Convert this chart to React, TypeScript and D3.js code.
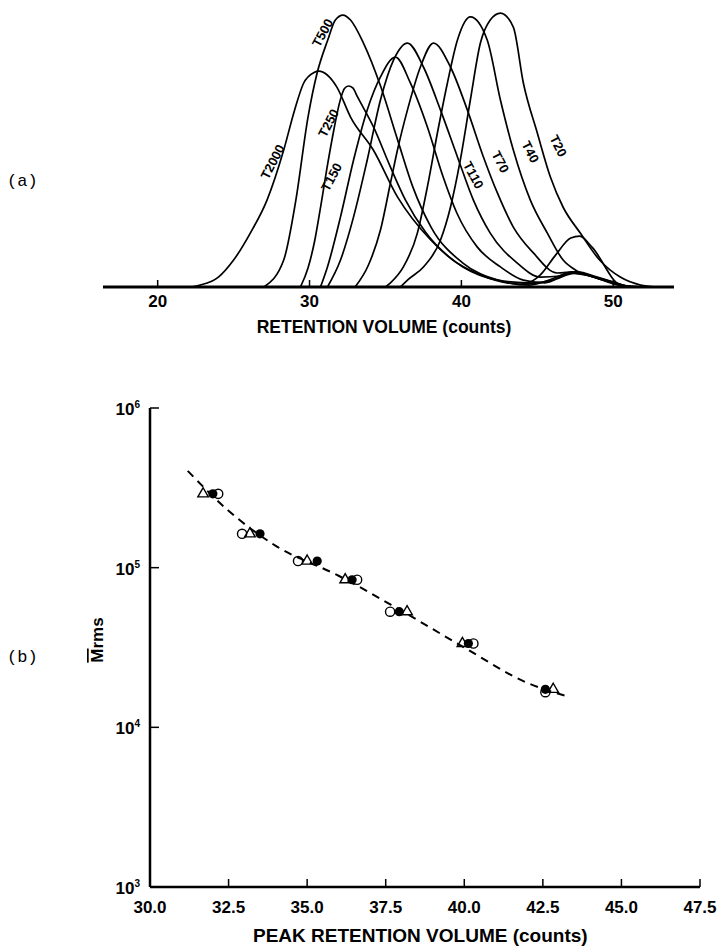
import React, { useEffect, useRef } from 'react';
import * as d3 from 'd3';

// (a) elution profiles: [retention volume (counts), response (% of tallest peak)]
const curveNames = ['T2000', 'T500', 'T250', 'T150', 'T110', 'T70', 'T40', 'T20'];

const t2000 = [[22.2, 0], [22.8, 0.7], [24.0, 3.6], [25.0, 9.8], [26.1, 19.6], [27.2, 31.6], [28.3, 49.8], [29.0, 64], [29.6, 74], [30.3, 78], [30.6, 78.5], [31.8, 72.7], [32.7, 61.8], [34.2, 49.8], [35.8, 32.7], [38.0, 17], [40.1, 7.3], [42.4, 2.5], [44.3, 1.5], [45.2, 4.4], [46.2, 11.6], [47.2, 17.8], [47.8, 18.5], [48.6, 14.5], [50.5, 0.7], [51.8, 0]];
const t500 = [[27.0, 0], [28.3, 9.8], [29.1, 31.6], [29.9, 61.8], [30.5, 77.8], [31.2, 89.8], [31.7, 97.1], [32.2, 98.9], [32.7, 97.1], [33.55, 88.7], [34.7, 72.7], [35.8, 53.5], [36.8, 36.4], [38.0, 21.8], [40.1, 8.7], [42.4, 2.5], [44.5, 0.7], [46.0, 3], [47.3, 5.5], [48.5, 4], [50.5, 0.5], [52.0, 0]];
const t250 = [[29.4, 0], [29.9, 6.9], [30.35, 17.1], [30.75, 29.8], [31.15, 43.3], [31.6, 57.1], [32.0, 67.5], [32.3, 72.2], [32.57, 73.1], [32.85, 72.4], [33.16, 69.1], [34.21, 58.2], [35.33, 43.6], [36.32, 31.6], [37.63, 20], [39.28, 10.5], [41.25, 4.4], [43.88, 1.1], [46.0, 2.5], [47.5, 5], [48.8, 3.5], [51.0, 0]];
const t150 = [[30.72, 0], [31.18, 7.3], [32.04, 25.5], [32.9, 46.2], [33.8, 64.4], [34.67, 76.4], [35.66, 83.6], [36.64, 74.2], [37.76, 58.2], [38.8, 40], [39.7, 26.9], [41.05, 14.5], [42.57, 7.3], [44.08, 2.5], [45.5, 1.5], [47.2, 5], [48.5, 4], [50.8, 0]];
const t110 = [[31.18, 0], [32.04, 9.8], [32.9, 25.5], [33.8, 46.2], [34.67, 68], [35.53, 82.5], [36.45, 88.7], [37.5, 80], [38.62, 64.4], [39.74, 47.3], [40.79, 31.6], [41.9, 19.6], [43.68, 8.7], [45.2, 3.6], [46.5, 4], [47.6, 5.5], [49.0, 3.5], [51.0, 0]];
const t70 = [[33.0, 0], [33.88, 8], [34.67, 20.7], [35.33, 37.8], [35.79, 49.8], [36.45, 64.4], [37.3, 80], [38.16, 88.7], [39.28, 80], [40.39, 64.4], [41.45, 47.3], [42.37, 34.2], [43.42, 21.8], [44.74, 12.4], [46.3, 5.1], [47.5, 5.5], [49.0, 3], [51.2, 0]];
const t40 = [[35.0, 0], [35.33, 1.5], [36.18, 7.3], [37.1, 19.6], [37.76, 36.4], [38.42, 56], [39.08, 74.2], [39.74, 89.8], [40.59, 98.2], [41.7, 89.8], [42.57, 68], [43.42, 49.8], [44.54, 31.6], [45.66, 19.6], [46.7, 9.8], [47.5, 6.2], [48.8, 3.5], [51.0, 0]];
const t20 = [[35.99, 0], [36.45, 2.5], [37.5, 7.3], [38.62, 17], [39.28, 29], [39.93, 46.2], [40.59, 68], [41.25, 88.7], [41.9, 97.1], [42.57, 99.6], [43.42, 94.5], [44.08, 74.2], [45.0, 56], [45.86, 40], [46.7, 29], [47.83, 19.6], [49.1, 9.8], [50.46, 3.6], [51.8, 0.7], [52.8, 0]];
const curves = [t2000, t500, t250, t150, t110, t70, t40, t20];

const topTicks = [20, 30, 40, 50];

// where each curve name sits (data units) and its slant
const labelSpots = [[27.57, 45.5, -63], [30.86, 92.4, -62], [31.25, 59.6, -63], [31.45, 40, -62], [40.79, 40.7, 62], [42.57, 45.5, 63], [44.54, 49.1, 63], [46.38, 51.3, 63]];

// (b) calibration: peak retention volume vs Mrms, three runs
const openCircleX = [32.17, 32.93, 34.71, 36.59, 37.64, 40.29, 42.58];
const openCircleY = [2.9e5, 1.63e5, 1.1e5, 8.4e4, 5.3e4, 3.35e4, 1.66e4];
const triangleX = [31.69, 33.18, 35.0, 36.21, 38.18, 39.94, 42.83];
const triangleY = [2.9e5, 1.63e5, 1.1e5, 8.4e4, 5.3e4, 3.35e4, 1.73e4];
const filledX = [32.0, 33.5, 35.32, 36.43, 37.93, 40.13, 42.58];
const filledY = [2.9e5, 1.63e5, 1.1e5, 8.4e4, 5.3e4, 3.35e4, 1.73e4];

const fitX = [31.2, 32.5, 34.0, 36.0, 38.0, 40.0, 42.0, 43.2];
const fitY = [4.04e5, 2.27e5, 1.37e5, 8.9e4, 5.37e4, 3.16e4, 1.9e4, 1.58e4];

const bottomTicks = [30.0, 32.5, 35.0, 37.5, 40.0, 42.5, 45.0, 47.5];
const decadeTicks = [1e3, 1e4, 1e5, 1e6];

const SANS = '"Liberation Sans", Arial, sans-serif';
const MONO = '"Liberation Mono", monospace';

const App = () => {
  const svgRef = useRef<SVGSVGElement>(null);

  useEffect(() => {
    const svg = d3.select(svgRef.current);
    svg.selectAll('*').remove();

    // ---------- (a) ----------
    const x = d3.scaleLinear().domain([16.4, 54]).range([103, 674]);
    const y = d3.scaleLinear().domain([0, 100]).range([287, 12]);
    const top = svg.append('g');

    const line = d3.line<number[]>()
      .x(d => x(d[0]))
      .y(d => y(d[1]))
      .curve(d3.curveMonotoneX);

    top.selectAll('path.elution')
      .data(curves)
      .enter()
      .append('path')
      .attr('class', 'elution')
      .attr('d', d => line(d))
      .attr('fill', 'none')
      .attr('stroke', '#000')
      .attr('stroke-width', 1.7);

    top.append('line')
      .attr('x1', x(16.4)).attr('x2', x(54))
      .attr('y1', y(0)).attr('y2', y(0))
      .attr('stroke', '#000').attr('stroke-width', 3);

    top.selectAll('line.tick')
      .data(topTicks)
      .enter()
      .append('line')
      .attr('x1', d => x(d)).attr('x2', d => x(d))
      .attr('y1', y(0)).attr('y2', y(0) - 7)
      .attr('stroke', '#000').attr('stroke-width', 1.5);

    top.selectAll('text.tick')
      .data(topTicks)
      .enter()
      .append('text')
      .attr('x', d => x(d))
      .attr('y', y(0) + 20)
      .attr('text-anchor', 'middle')
      .attr('font-family', SANS)
      .attr('font-weight', 'bold')
      .attr('font-size', 17)
      .text(d => d);

    top.append('text')
      .attr('x', 384).attr('y', 333)
      .attr('text-anchor', 'middle')
      .attr('font-family', SANS)
      .attr('font-weight', 'bold')
      .attr('font-size', 17.5)
      .text('RETENTION VOLUME (counts)');

    top.selectAll('text.name')
      .data(curveNames)
      .enter()
      .append('text')
      .attr('transform', (d, i) => `translate(${x(labelSpots[i][0])},${y(labelSpots[i][1])}) rotate(${labelSpots[i][2]})`)
      .attr('text-anchor', 'middle')
      .attr('dy', 4.5)
      .attr('font-family', SANS)
      .attr('font-weight', 'bold')
      .attr('font-size', 13)
      .text(d => d);

    svg.append('text')
      .attr('x', 7).attr('y', 186)
      .attr('font-family', MONO)
      .attr('font-size', 17)
      .text('(a)');

    // ---------- (b) ----------
    const bx = d3.scaleLinear().domain([30, 47.5]).range([150, 700]);
    const by = d3.scaleLog().domain([1e3, 1e6]).range([887, 408]);
    const bottom = svg.append('g');

    bottom.append('line')
      .attr('x1', bx(30)).attr('x2', bx(30))
      .attr('y1', by(1e6)).attr('y2', by(1e3))
      .attr('stroke', '#000').attr('stroke-width', 2.5);
    bottom.append('line')
      .attr('x1', bx(30)).attr('x2', bx(47.5))
      .attr('y1', by(1e3)).attr('y2', by(1e3))
      .attr('stroke', '#000').attr('stroke-width', 2.5);

    bottom.selectAll('line.xtick')
      .data(bottomTicks.slice(1))
      .enter()
      .append('line')
      .attr('x1', d => bx(d)).attr('x2', d => bx(d))
      .attr('y1', by(1e3)).attr('y2', by(1e3) - 8)
      .attr('stroke', '#000').attr('stroke-width', 1.5);

    bottom.selectAll('line.ytick')
      .data(decadeTicks.slice(1))
      .enter()
      .append('line')
      .attr('x1', bx(30)).attr('x2', bx(30) + 9)
      .attr('y1', d => by(d)).attr('y2', d => by(d))
      .attr('stroke', '#000').attr('stroke-width', 1.5);

    bottom.selectAll('text.xtick')
      .data(bottomTicks)
      .enter()
      .append('text')
      .attr('x', d => bx(d))
      .attr('y', 913)
      .attr('text-anchor', 'middle')
      .attr('font-family', SANS)
      .attr('font-weight', 'bold')
      .attr('font-size', 17)
      .text(d => d3.format('.1f')(d));

    const ylab = bottom.selectAll('text.ytick')
      .data(decadeTicks)
      .enter()
      .append('text')
      .attr('x', bx(30) - 10)
      .attr('y', d => by(d) + 7)
      .attr('text-anchor', 'end')
      .attr('font-family', SANS)
      .attr('font-weight', 'bold')
      .attr('font-size', 17);
    ylab.append('tspan').text('10');
    ylab.append('tspan')
      .attr('dy', -7)
      .attr('font-size', 10)
      .text(d => Math.round(Math.log10(d)));

    bottom.append('text')
      .attr('transform', 'translate(103,640) rotate(-90)')
      .attr('text-anchor', 'middle')
      .attr('font-family', SANS)
      .attr('font-weight', 'bold')
      .attr('font-size', 17)
      .call(t => {
        t.append('tspan').style('text-decoration', 'overline').text('M');
        t.append('tspan').text('rms');
      });

    bottom.append('text')
      .attr('x', 253).attr('y', 942)
      .attr('font-family', SANS)
      .attr('font-weight', 'bold')
      .attr('font-size', 19)
      .text('PEAK RETENTION VOLUME (counts)');

    svg.append('text')
      .attr('x', 7).attr('y', 662)
      .attr('font-family', MONO)
      .attr('font-size', 17)
      .text('(b)');

    const fitLine = d3.line<number>()
      .x(i => bx(fitX[i]))
      .y(i => by(fitY[i]))
      .curve(d3.curveMonotoneX);
    bottom.append('path')
      .attr('d', fitLine(d3.range(fitX.length)))
      .attr('fill', 'none')
      .attr('stroke', '#000')
      .attr('stroke-width', 2)
      .attr('stroke-dasharray', '8,6');

    bottom.selectAll('circle.filled')
      .data(filledX)
      .enter()
      .append('circle')
      .attr('cx', d => bx(d))
      .attr('cy', (d, i) => by(filledY[i]))
      .attr('r', 4.6)
      .attr('fill', '#000');

    bottom.selectAll('circle.open')
      .data(openCircleX)
      .enter()
      .append('circle')
      .attr('cx', d => bx(d))
      .attr('cy', (d, i) => by(openCircleY[i]))
      .attr('r', 4.6)
      .attr('fill', 'none')
      .attr('stroke', '#000')
      .attr('stroke-width', 1.4);

    const tri = d3.symbol().type(d3.symbolTriangle).size(48);
    bottom.selectAll('path.tri')
      .data(triangleX)
      .enter()
      .append('path')
      .attr('d', tri() as string)
      .attr('transform', (d, i) => `translate(${bx(d)},${by(triangleY[i])})`)
      .attr('fill', 'none')
      .attr('stroke', '#000')
      .attr('stroke-width', 1.4);
  }, []);

  return (
    <svg
      ref={svgRef}
      width={722}
      height={950}
      style={{ position: 'absolute', left: 0, top: 0, background: '#fff' }}
    />
  );
};

export default App;
